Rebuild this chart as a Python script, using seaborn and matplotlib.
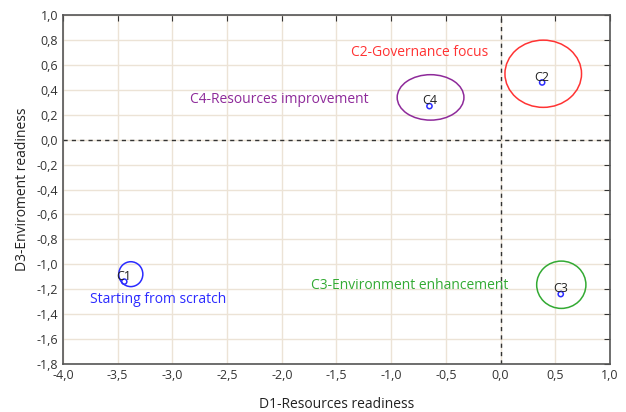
import numpy as np
import pandas as pd
import matplotlib
matplotlib.use('Agg')
import matplotlib.pyplot as plt
from matplotlib.patches import Ellipse
from matplotlib.ticker import MultipleLocator, FuncFormatter
import seaborn as sns

# ── DATA ──────────────────────────────────────────────────────────────────────
clusters = ["C1", "C2", "C3", "C4"]
d1_resources = [-3.44, 0.38, 0.55, -0.65]
d3_environment = [-1.14, 0.46, -1.24, 0.27]

# confidence ellipses: centre x, centre y, width, height
ell_x = [-3.38, 0.39, 0.555, -0.64]
ell_y = [-1.08, 0.53, -1.165, 0.34]
ell_w = [0.22, 0.70, 0.45, 0.61]
ell_h = [0.20, 0.54, 0.38, 0.365]
ell_colors = ["#2b2bff", "#ff3333", "#33aa33", "#8e2a9a"]

group_names = ["Starting from scratch", "C2-Governance focus",
               "C3-Environment enhancement", "C4-Resources improvement"]
name_x = [-3.13, -0.74, -0.83, -2.02]
name_y = [-1.28, 0.70, -1.17, 0.32]

df = pd.DataFrame({"cluster": clusters, "D1": d1_resources, "D3": d3_environment})

sns.set_style("white")
plt.rcParams['font.family'] = ['Open Sans', 'DejaVu Sans']

fig = plt.figure(figsize=(6.26, 4.12), dpi=100)
ax = fig.add_axes([0.1006, 0.117, 0.8738, 0.846])

ax.grid(True, which='major', color='#ece3d6', linewidth=1.0, zorder=0)
ax.axhline(0, color='#333333', linestyle=(0, (3, 3)), linewidth=1.0, zorder=1)
ax.axvline(0, color='#333333', linestyle=(0, (3, 3)), linewidth=1.0, zorder=1)

for x, y, w, h, c in zip(ell_x, ell_y, ell_w, ell_h, ell_colors):
    ax.add_patch(Ellipse((x, y), w, h, fill=False, edgecolor=c, linewidth=1.1, zorder=2))

sns.scatterplot(data=df, x="D1", y="D3", ax=ax, marker='o', s=14,
                facecolor='none', edgecolor='#2b2bff', linewidth=1.1, zorder=3)

for lab, x, y in zip(clusters, d1_resources, d3_environment):
    ax.text(x, y - 0.01, lab, ha='center', va='bottom', fontsize=9, color='#222222', zorder=4)

for name, x, y, c in zip(group_names, name_x, name_y, ell_colors):
    ax.text(x, y, name, ha='center', va='center', fontsize=10, color=c, zorder=4)

ax.set_xlim(-4.0, 1.0)
ax.set_ylim(-1.8, 1.0)
ax.xaxis.set_major_locator(MultipleLocator(0.5))
ax.xaxis.set_minor_locator(MultipleLocator(0.1))
ax.yaxis.set_major_locator(MultipleLocator(0.2))
ax.yaxis.set_minor_locator(MultipleLocator(0.1))
comma = FuncFormatter(lambda v, p: f"{v:.1f}".replace('.', ',').replace('-0,0', '0,0'))
ax.xaxis.set_major_formatter(comma)
ax.yaxis.set_major_formatter(comma)
ax.tick_params(which='major', direction='in', top=True, right=True, length=4,
               color='#333333', labelsize=9, labelcolor='#333333')
ax.tick_params(which='minor', direction='out', top=False, right=False, length=2.5,
               color='#333333')
for s in ax.spines.values():
    s.set_color('#555555')
    s.set_linewidth(1.2)

ax.set_xlabel("D1-Resources readiness", fontsize=10, color='#222222', labelpad=11)
ax.set_ylabel("D3-Enviroment readiness", fontsize=10, color='#222222', labelpad=5)

fig.savefig("out.png", dpi=100)
